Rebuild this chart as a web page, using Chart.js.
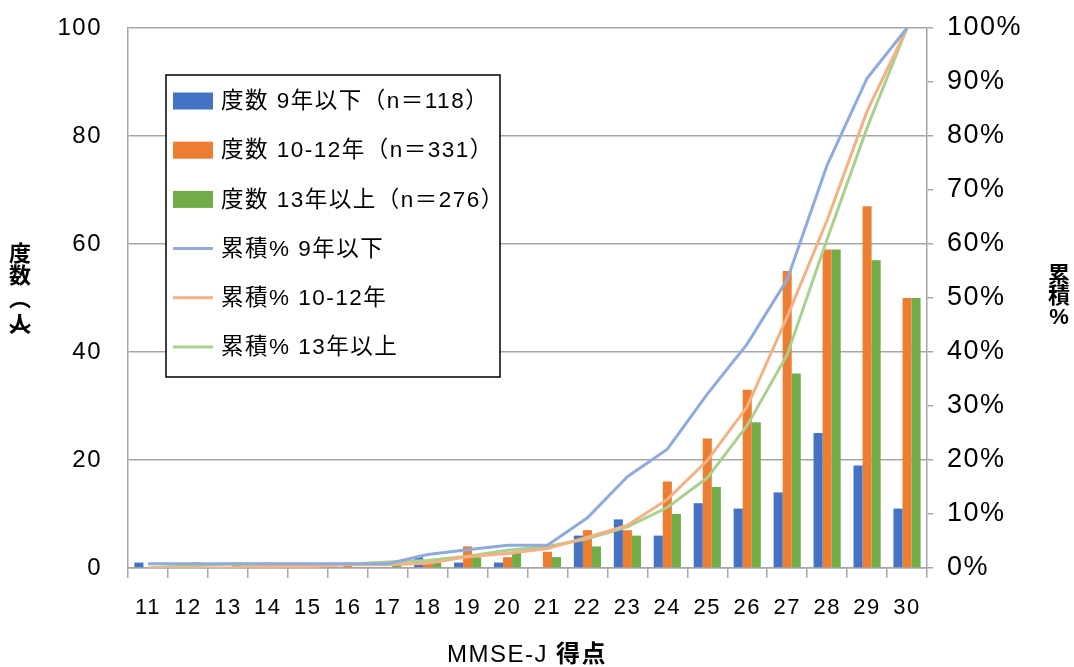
<!DOCTYPE html>
<html>
<head>
<meta charset="utf-8">
<script src="https://cdn.jsdelivr.net/npm/chart.js@4"></script>
<style>
  html, body { margin: 0; padding: 0; background: #fff; }
  #wrap { width: 1074px; height: 667px; }
</style>
</head>
<body>
<div id="wrap"><canvas id="chart" width="1074" height="667"></canvas></div>
<script>
// MMSE-J score categories
const scores = ['11','12','13','14','15','16','17','18','19','20','21','22','23','24','25','26','27','28','29','30'];

// counts (people) per education group
const cnt9  = [1,0,0,0,0,0,0,2,1,1,0,6,9,6,12,11,14,25,19,11];
const cnt10 = [0,0,0,1,0,1,0,1,4,2,3,7,7,16,24,33,55,59,67,50];
const cnt13 = [0,1,1,0,0,0,1,1,2,3,2,4,6,10,15,27,36,59,57,50];

// cumulative % per group
const cum9  = [0.8,0.8,0.8,0.8,0.8,0.8,0.8,2.5,3.4,4.2,4.2,9.3,16.9,22.0,32.2,41.5,53.4,74.6,90.7,100];
const cum10 = [0,0,0,0.3,0.3,0.6,0.6,0.9,2.1,2.7,3.6,5.7,7.9,12.7,19.9,29.9,46.5,64.4,84.6,100];
const cum13 = [0,0.4,0.7,0.7,0.7,0.7,1.1,1.4,2.2,3.3,4.0,5.4,7.6,11.2,16.7,26.4,39.5,60.9,81.5,100];

const names = [
  '度数 9年以下（n＝118）', '度数 10-12年（n＝331）', '度数 13年以上（n＝276）',
  '累積% 9年以下', '累積% 10-12年', '累積% 13年以上'
];

const FONT = "'Liberation Sans', Arial, 'Noto Sans CJK JP', sans-serif";
const GRID = '#a6a6a6';

function bar(label, data, color){
  return { type: 'bar', label, data, backgroundColor: color, borderWidth: 0, yAxisID: 'y', order: 2,
           categoryPercentage: 0.68, barPercentage: 1 };
}
function line(label, data, color){
  return { type: 'line', label, data, borderColor: color, backgroundColor: color, borderWidth: 3,
           pointRadius: 0, tension: 0, yAxisID: 'y2', order: 1 };
}
// keep the plot box fixed, labels may overflow into the margin
function noPad(s){ s.paddingTop = 0; s.paddingBottom = 0; }

// Excel text is drawn a bit wider than the canvas default
const spacingPlugin = {
  id: 'spacing',
  beforeLayout(chart){ chart.ctx.letterSpacing = '1.5px'; },
  beforeDraw(chart){ chart.ctx.letterSpacing = '1.5px'; }
};

// legend box drawn inside the plot, Excel style
const legendPlugin = {
  id: 'boxLegend',
  afterDatasetsDraw(chart){
    const ctx = chart.ctx;
    const bx = 166, by = 75, bw = 334, bh = 302;
    ctx.save();
    ctx.fillStyle = '#fff';
    ctx.fillRect(bx, by, bw, bh);
    ctx.strokeStyle = '#000'; ctx.lineWidth = 1.5;
    ctx.strokeRect(bx, by, bw, bh);
    ctx.font = '22.5px ' + FONT;
    ctx.textBaseline = 'middle';
    chart.data.datasets.forEach((ds, i) => {
      const cy = 101 + i * 49.2;
      if (ds.type === 'bar') {
        ctx.fillStyle = ds.backgroundColor;
        ctx.fillRect(173, cy - 8.5, 40, 17);
      } else {
        ctx.strokeStyle = ds.borderColor; ctx.lineWidth = 3;
        ctx.beginPath(); ctx.moveTo(173, cy); ctx.lineTo(213, cy); ctx.stroke();
      }
      ctx.fillStyle = '#000';
      ctx.fillText(ds.label, 221, cy + 1);
    });
    ctx.restore();
  }
};

// axis titles: stacked vertical text on both sides, x title below
const titlePlugin = {
  id: 'titles',
  afterDraw(chart){
    const ctx = chart.ctx;
    ctx.save();
    ctx.letterSpacing = '0px';
    ctx.fillStyle = '#000';
    ctx.textAlign = 'center';
    ctx.textBaseline = 'middle';
    ctx.font = 'bold 22px ' + FONT;
    const left = [['度',255],['数',277],['︵',300],['人',326],['︶',336]];
    left.forEach(([c, y]) => ctx.fillText(c, 20, y));
    const right = [['累',276],['積',297],['%',318]];
    right.forEach(([c, y]) => ctx.fillText(c, 1059, y));
    // x title: latin part regular, kanji bold
    ctx.letterSpacing = '1.5px';
    const a = 'MMSE-J ', b = '得点';
    ctx.font = '24px ' + FONT;
    const wa = ctx.measureText(a).width;
    ctx.font = 'bold 24px ' + FONT;
    const wb = ctx.measureText(b).width;
    let x = 527 - (wa + wb) / 2;
    ctx.textAlign = 'left';
    ctx.font = '24px ' + FONT;
    ctx.fillText(a, x, 655);
    ctx.font = 'bold 24px ' + FONT;
    ctx.fillText(b, x + wa, 655);
    ctx.restore();
  }
};

const chart = new Chart(document.getElementById('chart'), {
  data: {
    labels: scores,
    datasets: [
      bar(names[0], cnt9, '#4472C4'),
      bar(names[1], cnt10, '#ED7D31'),
      bar(names[2], cnt13, '#70AD47'),
      line(names[3], cum9, '#8FAADC'),
      line(names[4], cum10, '#F4B183'),
      line(names[5], cum13, '#A9D18E'),
    ]
  },
  options: {
    responsive: false,
    animation: false,
    layout: { padding: { top: 28, left: 0, right: 0, bottom: 0 } },
    plugins: { legend: { display: false }, tooltip: { enabled: false } },
    scales: {
      x: {
        offset: true,
        grid: { offset: true, drawOnChartArea: false, color: GRID, tickLength: 10, lineWidth: 1.5 },
        border: { color: GRID, width: 1.5 },
        ticks: { color: '#000', font: { size: 22, family: FONT }, padding: 17, maxRotation: 0, autoSkip: false },
        afterFit(s){ s.height = 99; s.paddingLeft = 0; s.paddingRight = 0; }
      },
      y: {
        position: 'left', min: 0, max: 100,
        ticks: { stepSize: 20, color: '#000', font: { size: 24, family: FONT }, padding: 26 },
        grid: { color: GRID, lineWidth: 1.5, drawTicks: false },
        border: { color: GRID, width: 1.5 },
        afterFit(s){ s.width = 128; noPad(s); }
      },
      y2: {
        position: 'right', min: 0, max: 100,
        ticks: { stepSize: 10, color: '#000', font: { size: 27, family: FONT }, padding: 14,
                 callback: v => v + '%' },
        grid: { drawOnChartArea: false, color: GRID, tickLength: 6, lineWidth: 1.5 },
        border: { color: GRID, width: 1.5 },
        afterFit(s){ s.width = 147; noPad(s); }
      }
    }
  },
  plugins: [spacingPlugin, legendPlugin, titlePlugin]
});
</script>
</body>
</html>
